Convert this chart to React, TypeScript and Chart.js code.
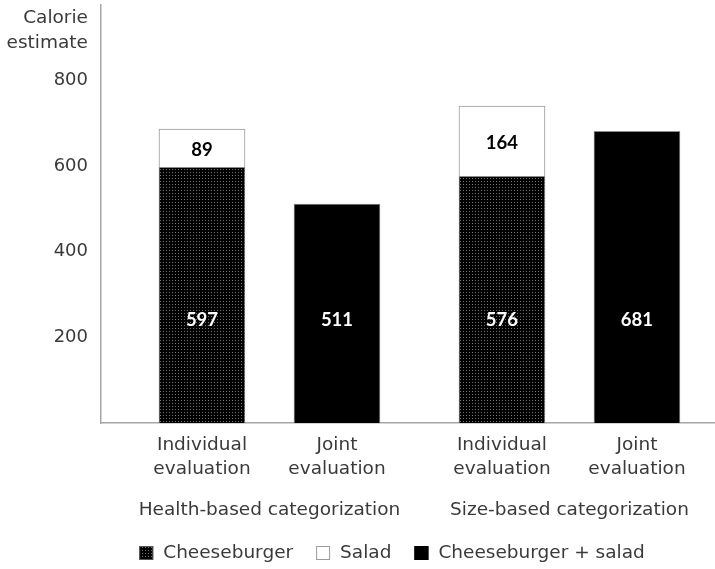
import React, { useEffect, useRef } from "react";
import { Chart, registerables } from "chart.js";

Chart.register(...registerables);

// ---- data ----
const GROUPS = ["Health-based categorization", "Size-based categorization"];
const CONDITIONS = ["Individual evaluation", "Joint evaluation"];
const SERIES_NAMES = ["Cheeseburger", "Salad", "Cheeseburger + salad"];
const CHEESEBURGER: (number | null)[] = [597, null, 576, null];
const SALAD: (number | null)[] = [89, null, 164, null];
const COMBINED: (number | null)[] = [null, 511, null, 681];
const Y_TICKS = [200, 400, 600, 800];
const Y_TITLE = ["Calorie", "estimate"];

// ---- layout / style ----
const W = 715;
const H = 569;
const GROUP_GAP = 2.222;
const X_MIN = -0.748;
const X_MAX = 3.8;
const Y_MAX = 976;
const LABEL_LEVEL = 240;
const FONT = "'DejaVu Sans', sans-serif";
const BOLD_FONT = "Lato, 'DejaVu Sans', sans-serif";
const TEXT = "#3a3a3a";
const AXIS = "#a6a6a6";

const xPos = (i: number) => Math.floor(i / 2) * GROUP_GAP + (i % 2);

function toPoints(arr: (number | null)[]) {
  const out: { x: number; y: number }[] = [];
  arr.forEach((v, i) => {
    if (v !== null) out.push({ x: xPos(i), y: v });
  });
  return out;
}

function makePattern(): CanvasPattern | string {
  const c = document.createElement("canvas");
  c.width = 3;
  c.height = 3;
  const g = c.getContext("2d");
  if (!g) return "#111";
  g.fillStyle = "#000";
  g.fillRect(0, 0, 3, 3);
  g.fillStyle = "#707070";
  g.fillRect(1, 1, 1, 1);
  const p = g.createPattern(c, "repeat");
  return p || "#111";
}

const zeroPad = (s: any) => {
  s.paddingTop = 0;
  s.paddingBottom = 0;
  s.paddingLeft = 0;
  s.paddingRight = 0;
};

const yTitlePlugin = {
  id: "yTitle",
  afterDraw(chart: any) {
    const ctx = chart.ctx;
    ctx.save();
    ctx.font = `18.5px ${FONT}`;
    ctx.fillStyle = TEXT;
    ctx.textAlign = "right";
    ctx.textBaseline = "middle";
    ctx.fillText(Y_TITLE[0], 88, 18);
    ctx.fillText(Y_TITLE[1], 88, 43);
    ctx.restore();
  },
};

const valueLabelPlugin = {
  id: "valueLabels",
  afterDatasetsDraw(chart: any) {
    const ctx = chart.ctx;
    ctx.save();
    ctx.font = `bold 18.5px ${BOLD_FONT}`;
    ctx.textAlign = "center";
    ctx.textBaseline = "middle";
    chart.data.datasets.forEach((ds: any, d: number) => {
      const meta = chart.getDatasetMeta(d);
      meta.data.forEach((bar: any, j: number) => {
        const v = ds.data[j].y;
        let y: number;
        if (d === 1) {
          y = (bar.y + bar.base) / 2 + 2;
          ctx.fillStyle = "#000";
        } else {
          y = chart.scales.y.getPixelForValue(LABEL_LEVEL);
          ctx.fillStyle = "#fff";
        }
        ctx.fillText(String(v), bar.x, y);
      });
    });
    ctx.restore();
  },
};

const legendPlugin = {
  id: "customLegend",
  afterDraw(chart: any) {
    const ctx = chart.ctx;
    const box = 14;
    const gap = 10;
    const spacing = 23;
    const cy = 553;
    ctx.save();
    ctx.font = `18.5px ${FONT}`;
    ctx.textBaseline = "middle";
    ctx.textAlign = "left";
    const widths = chart.data.datasets.map((ds: any) => box + gap + ctx.measureText(ds.label).width);
    const total = widths.reduce((a: number, b: number) => a + b, 0) + spacing * (widths.length - 1);
    let x = 392 - total / 2;
    chart.data.datasets.forEach((ds: any, i: number) => {
      ctx.fillStyle = ds.backgroundColor;
      ctx.fillRect(x, cy - box / 2, box, box);
      ctx.strokeStyle = ds.legendBorder;
      ctx.lineWidth = 1;
      ctx.strokeRect(x + 0.5, cy - box / 2 + 0.5, box - 1, box - 1);
      ctx.fillStyle = TEXT;
      ctx.fillText(ds.label, x + box + gap, cy);
      x += widths[i] + spacing;
    });
    ctx.restore();
  },
};

export default function App() {
  const ref = useRef<HTMLCanvasElement | null>(null);

  useEffect(() => {
    if (!ref.current) return;
    const pattern = makePattern();
    const chart = new Chart(ref.current, {
      type: "bar",
      data: {
        datasets: [
          {
            label: SERIES_NAMES[0],
            data: toPoints(CHEESEBURGER),
            backgroundColor: pattern as any,
            borderColor: "#8c8c8c",
            borderWidth: 1,
            barThickness: 86,
            stack: "s",
            legendBorder: "#555",
          } as any,
          {
            label: SERIES_NAMES[1],
            data: toPoints(SALAD),
            backgroundColor: "#ffffff",
            borderColor: "#9a9a9a",
            borderWidth: 1,
            barThickness: 86,
            stack: "s",
            legendBorder: "#9a9a9a",
          } as any,
          {
            label: SERIES_NAMES[2],
            data: toPoints(COMBINED),
            backgroundColor: "#000000",
            borderColor: "#8c8c8c",
            borderWidth: 1,
            barThickness: 86,
            stack: "s",
            legendBorder: "#000",
          } as any,
        ],
      },
      options: {
        animation: false,
        responsive: false,
        layout: { padding: { top: 5, bottom: 44, left: 0, right: 0 } },
        plugins: { legend: { display: false }, tooltip: { enabled: false } },
        scales: {
          x: {
            type: "linear",
            stacked: true,
            offset: false,
            min: X_MIN,
            max: X_MAX,
            weight: 0,
            grid: { display: false, drawTicks: false, offset: false },
            border: { display: true, color: AXIS, width: 1.5 },
            afterBuildTicks: (s: any) => {
              s.ticks = CONDITIONS.concat(CONDITIONS).map((_, i) => ({ value: xPos(i) }));
            },
            afterFit: (s: any) => {
              s.height = 62;
              zeroPad(s);
            },
            ticks: {
              autoSkip: false,
              maxRotation: 0,
              padding: 11,
              color: TEXT,
              font: { family: FONT, size: 18.5, lineHeight: 1.25 },
              callback: (_v: any, i: number) => CONDITIONS[i % 2].split(" "),
            },
          },
          x2: {
            type: "linear",
            position: "bottom",
            offset: false,
            min: X_MIN,
            max: X_MAX,
            weight: 1,
            grid: { display: false, drawTicks: false, offset: false },
            border: { display: false },
            afterBuildTicks: (s: any) => {
              s.ticks = GROUPS.map((_, g) => ({ value: xPos(g * 2) + 0.5 }));
            },
            afterFit: (s: any) => {
              s.height = 40;
              zeroPad(s);
            },
            ticks: {
              autoSkip: false,
              maxRotation: 0,
              padding: 14,
              color: TEXT,
              font: { family: FONT, size: 18.5 },
              callback: (_v: any, i: number) => GROUPS[i],
            },
          },
          y: {
            stacked: true,
            min: 0,
            max: Y_MAX,
            grid: { display: false, drawTicks: false },
            border: { display: true, color: AXIS, width: 1.5 },
            afterBuildTicks: (s: any) => {
              s.ticks = Y_TICKS.map((v) => ({ value: v }));
            },
            afterFit: (s: any) => {
              s.width = 101;
              zeroPad(s);
            },
            ticks: {
              padding: 13,
              color: TEXT,
              font: { family: FONT, size: 18 },
            },
          },
        },
      } as any,
      plugins: [yTitlePlugin, valueLabelPlugin, legendPlugin],
    });
    return () => chart.destroy();
  }, []);

  return (
    <div style={{ position: "absolute", left: 0, top: 0, width: W, height: H, background: "#fff" }}>
      <canvas ref={ref} width={W} height={H} />
    </div>
  );
}
